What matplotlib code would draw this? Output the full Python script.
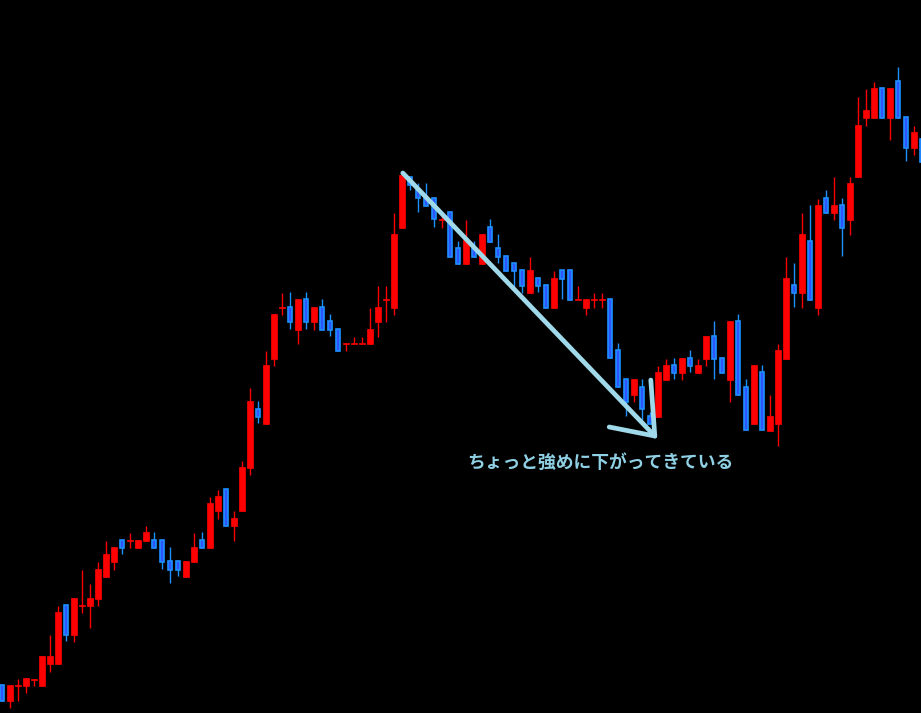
import numpy as np
import matplotlib
matplotlib.use("Agg")
import matplotlib.pyplot as plt

plt.rcParams['font.family'] = ['Noto Sans CJK JP', 'DejaVu Sans']

opens = [685, 701, 685, 686, 679, 686, 664, 664, 605, 635,
         605, 606, 599, 577, 562, 540, 540, 548, 541, 540,
         540, 561, 561, 577, 562, 540, 548, 511, 489, 526,
         511, 468, 409, 424, 359, 307, 307, 330, 299, 322,
         307, 321, 329, 343, 343, 343, 344, 322, 299, 308,
         228, 177, 190, 198, 198, 219, 212, 248, 264, 248,
         264, 227, 248, 256, 263, 270, 293, 278, 285, 308,
         270, 270, 299, 308, 299, 299, 299, 350, 379, 395,
         387, 416, 417, 380, 365, 373, 358, 373, 359, 336,
         358, 380, 321, 387, 424, 372, 431, 424, 359, 285,
         293, 241, 308, 198, 213, 205, 220, 177, 118, 118,
         88, 118, 81, 117, 148, 139]
highs = [685, 685, 679, 678, 679, 656, 635, 606, 605, 598,
         570, 584, 562, 541, 547, 540, 533, 540, 526, 532,
         540, 547, 561, 561, 533, 532, 497, 490, 489, 511,
         461, 388, 401, 351, 314, 293, 292, 299, 292, 307,
         299, 314, 329, 343, 337, 337, 308, 286, 286, 213,
         173, 177, 183, 183, 198, 214, 212, 241, 220, 241,
         234, 219, 234, 256, 263, 270, 257, 278, 285, 271,
         270, 270, 286, 299, 293, 293, 299, 343, 379, 379,
         379, 412, 366, 359, 358, 358, 350, 359, 336, 321,
         358, 321, 314, 379, 365, 365, 395, 344, 257, 263,
         213, 205, 199, 190, 177, 198, 177, 97, 89, 82,
         88, 88, 67, 117, 126, 139]
lows = [701, 708, 701, 693, 686, 686, 672, 664, 641, 642,
        613, 628, 606, 577, 570, 554, 548, 548, 541, 548,
        569, 583, 576, 577, 562, 548, 548, 519, 526, 541,
        511, 475, 423, 424, 366, 315, 329, 344, 329, 330,
        330, 336, 351, 351, 343, 343, 344, 337, 322, 315,
        228, 190, 212, 206, 227, 228, 257, 264, 264, 257,
        264, 242, 263, 271, 287, 293, 293, 292, 308, 308,
        299, 300, 299, 315, 308, 308, 358, 387, 416, 402,
        420, 424, 417, 380, 379, 380, 372, 373, 366, 379,
        373, 402, 395, 430, 424, 430, 431, 446, 359, 307,
        308, 300, 315, 213, 220, 256, 235, 177, 126, 118,
        118, 140, 118, 161, 155, 162]
closes = [701, 685, 685, 678, 679, 656, 656, 612, 635, 598,
          605, 598, 569, 554, 547, 548, 540, 540, 532, 548,
          562, 570, 570, 561, 547, 548, 503, 496, 526, 518,
          467, 401, 417, 365, 314, 307, 322, 299, 322, 307,
          330, 330, 351, 343, 343, 343, 329, 307, 299, 234,
          175, 185, 198, 206, 219, 219, 257, 264, 240, 257,
          234, 242, 257, 271, 271, 286, 270, 286, 308, 278,
          279, 300, 299, 299, 299, 299, 358, 387, 402, 379,
          409, 424, 372, 365, 373, 358, 366, 365, 336, 359,
          373, 321, 395, 430, 365, 430, 416, 350, 278, 293,
          234, 300, 205, 213, 205, 228, 183, 125, 110, 88,
          118, 88, 118, 148, 132, 162]

note_text = "ちょっと強めに下がってきている"

RED = "#ff0000"
BLUE_FILL = "#2c55ff"
BLUE_EDGE = "#1e90ff"
ARROW = "#a0d9e9"
TEXT = "#8fd0e4"

o = np.array(opens, dtype=float)
h = np.array(highs, dtype=float)
l = np.array(lows, dtype=float)
c = np.array(closes, dtype=float)
x = np.arange(len(o))
up = c <= o  # smaller level = higher on screen

fig = plt.figure(figsize=(9.21, 7.13), dpi=100, facecolor="black")
ax = fig.add_axes([0, 0, 1, 1])
ax.set_facecolor("black")

# wicks
wick_cols = [RED if u else BLUE_EDGE for u in up]
ax.vlines(x, h, l, colors=wick_cols, linewidth=1.0, zorder=2)

# bodies (dojis get a 1-unit body so they show as a dash)
top = np.minimum(o, c)
height = np.maximum(np.abs(o - c), 1.0)
ax.bar(x[up], height[up], bottom=top[up], width=0.66,
       color=RED, edgecolor=RED, linewidth=0.5, zorder=3)
ax.bar(x[~up], height[~up], bottom=top[~up], width=0.58,
       color=BLUE_FILL, edgecolor=BLUE_EDGE, linewidth=1.2, zorder=3)

# hand-drawn arrow
tip = (81.6, 436)
ax.plot([50.1, tip[0]], [173, tip[1]], color=ARROW, lw=3.4,
        solid_capstyle="round", zorder=5)
ax.plot([75.9, tip[0]], [427, tip[1]], color=ARROW, lw=3.4,
        solid_capstyle="round", zorder=5)
ax.plot([81.1, tip[0]], [380, tip[1]], color=ARROW, lw=3.4,
        solid_capstyle="round", zorder=5)

ax.text(74.75, 463, note_text, color=TEXT, fontsize=12.8,
        fontweight="bold", ha="center", va="center", zorder=6)

ax.set_xlim(-0.25, 114.875)
ax.set_ylim(713, 0)
ax.axis("off")

fig.savefig("out.png", dpi=100, facecolor="black")
